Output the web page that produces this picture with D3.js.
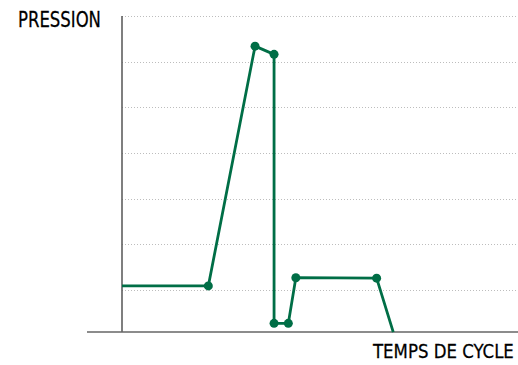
<!DOCTYPE html>
<html>
<head>
<meta charset="utf-8">
<script src="https://cdn.jsdelivr.net/npm/d3@7"></script>
<style>
  html, body { margin: 0; padding: 0; background: #fff; }
  svg { display: block; }
  .lbl { font-family: "Liberation Sans Narrow", "DejaVu Sans Condensed", "Liberation Sans", sans-serif; fill: #000; stroke: #000; stroke-width: 0.25; }
</style>
</head>
<body>
<svg id="chart" width="518" height="365"></svg>
<script>
// Data (time in arbitrary units, pressure in arbitrary units)
const times     = [0, 21.8, 33.6, 38.4, 38.4, 42.0, 43.9, 64.3, 68.5];
const pressures = [1.09, 1.09, 6.34, 6.16, 0.27, 0.27, 1.27, 1.26, 0.08];
const markers   = [false, true, true, true, true, true, true, true, false];
const gridValues = [1, 2, 3, 4, 5, 6, 7];
const yAxisTitle = "PRESSION";
const xAxisTitle = "TEMPS DE CYCLE";
const baseValue = 0.08;

const W = 518, H = 365;
const svg = d3.select("#chart");

const x = d3.scaleLinear().domain([0, 100]).range([122, 518]);
const y = d3.scaleLinear().domain([0, 7]).range([335.7, 16]);

const green = "#006e46";

// gridlines
svg.append("g").selectAll("line").data(gridValues).join("line")
  .attr("x1", x(0)).attr("x2", W)
  .attr("y1", d => Math.round(y(d)) + 0.5).attr("y2", d => Math.round(y(d)) + 0.5)
  .attr("stroke", "#bdbdbd").attr("stroke-width", 1)
  .attr("stroke-dasharray", "1,2");

// y axis line
svg.append("line")
  .attr("x1", x(0)).attr("x2", x(0))
  .attr("y1", y(7)).attr("y2", y(baseValue))
  .attr("stroke", "#555").attr("stroke-width", 1.5);

// x axis line
svg.append("line")
  .attr("x1", 87).attr("x2", W)
  .attr("y1", y(baseValue)).attr("y2", y(baseValue))
  .attr("stroke", "#666").attr("stroke-width", 1.5);

const pts = times.map((t, i) => ({ t, p: pressures[i], m: markers[i] }));

svg.append("path")
  .datum(pts)
  .attr("fill", "none")
  .attr("stroke", green)
  .attr("stroke-width", 2.8)
  .attr("stroke-linejoin", "round")
  .attr("d", d3.line().x(d => x(d.t)).y(d => y(d.p)));

svg.append("g").selectAll("circle").data(pts.filter(d => d.m)).join("circle")
  .attr("cx", d => x(d.t)).attr("cy", d => y(d.p))
  .attr("r", 4.5).attr("fill", green);

function fitText(str, left, right, baseline, size) {
  const g = svg.append("g");
  const t = g.append("text").attr("class", "lbl")
    .attr("font-size", size).attr("x", 0).attr("y", 0).text(str);
  const w = t.node().getComputedTextLength();
  const s = (right - left) / w;
  g.attr("transform", `translate(${left},${baseline}) scale(${s},1)`);
}

fitText(yAxisTitle, 18, 101, 27, 21);
fitText(xAxisTitle, 373, 514, 358, 20);
</script>
</body>
</html>
